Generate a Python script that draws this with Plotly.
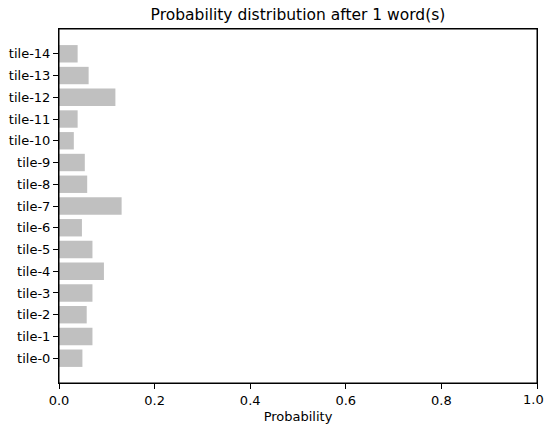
import plotly.graph_objects as go

categories = [f"tile-{i}" for i in range(15)]
probabilities = [0.049, 0.070, 0.058, 0.070, 0.094, 0.070, 0.048, 0.131,
                 0.059, 0.054, 0.031, 0.039, 0.118, 0.062, 0.039]
x_ticks = [0.0, 0.2, 0.4, 0.6, 0.8, 1.0]
x_tick_labels = ["0.0", "0.2", "0.4", "0.6", "0.8", "1.0"]

FONT = "DejaVu Sans"

fig = go.Figure(
    go.Bar(
        x=probabilities,
        y=list(range(len(categories))),
        orientation="h",
        width=0.8,
        marker=dict(color="#c0c0c0", line=dict(width=0)),
    )
)

# last tick label would overflow the page edge and be culled by plotly;
# draw it as an annotation kept just inside the page edge
axis_ticktext = x_tick_labels[:-1] + [""]

fig.add_annotation(
    x=x_ticks[-1], xref="x",
    y=0, yref="paper",
    yanchor="middle", xanchor="right",
    xshift=8,
    yshift=-16,
    borderpad=0,
    text=x_tick_labels[-1],
    showarrow=False,
    font=dict(family=FONT, size=13, color="#000000"),
)

fig.add_shape(
    type="rect", xref="paper", yref="paper",
    x0=0, x1=1, y0=0, y1=1,
    line=dict(color="black", width=1),
    fillcolor="rgba(0,0,0,0)",
    layer="above",
)

fig.update_layout(
    width=546,
    height=428,
    margin=dict(l=59, r=9, t=29, b=45),
    paper_bgcolor="white",
    plot_bgcolor="white",
    font=dict(family=FONT, size=13, color="#000000"),
    showlegend=False,
    title=dict(
        text="Probability distribution after 1 word(s)",
        x=(59 + 537) / 2 / 546,
        xanchor="center",
        xref="container",
        y=1 - 15 / 428,
        yanchor="middle",
        yref="container",
        font=dict(family=FONT, size=15.5, color="#000000"),
    ),
    xaxis=dict(
        range=[0, 1],
        tickvals=x_ticks,
        ticktext=axis_ticktext,
        ticks="outside",
        ticklen=5,
        tickwidth=1,
        tickcolor="black",
        showline=True,
        linecolor="black",
        linewidth=1,
        mirror=True,
        showgrid=False,
        zeroline=False,
        automargin=False,
        title=dict(text="Probability", standoff=5, font=dict(family=FONT, size=13)),
    ),
    yaxis=dict(
        range=[-1.14, 15.14],
        tickvals=list(range(len(categories))),
        ticktext=categories,
        ticks="outside",
        ticklen=5,
        tickwidth=1,
        tickcolor="black",
        showline=True,
        linecolor="black",
        linewidth=1,
        mirror=True,
        showgrid=False,
        zeroline=False,
        automargin=False,
    ),
)

fig.write_html("out.html")
